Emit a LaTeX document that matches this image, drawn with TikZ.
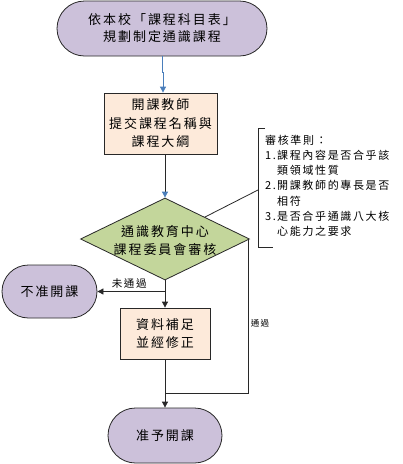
\documentclass[tikz,border=0pt]{standalone}
\usepackage{fontspec}
\newfontfamily\cjk[LetterSpace=15]{Noto Sans CJK TC}
\usetikzlibrary{shapes.geometric,arrows.meta,calc}
\definecolor{termfill}{RGB}{204,193,218}
\definecolor{boxfill}{RGB}{253,234,218}
\definecolor{decfill}{RGB}{195,214,155}
\definecolor{arrblue}{RGB}{74,126,187}
\definecolor{edge}{RGB}{40,40,40}
\tikzset{
  term/.style={draw=edge, line width=0.8pt, fill=termfill, inner sep=0pt, align=center,
    font=\cjk\fontsize{13}{17}\selectfont},
  procbox/.style={draw=edge, line width=0.8pt, fill=boxfill, inner sep=0pt, align=center,
    font=\cjk\fontsize{13}{18.5}\selectfont},
  decshape/.style={draw=edge, line width=0.8pt, fill=decfill, diamond, inner sep=0pt},
  maintext/.style={align=center, inner sep=0pt, font=\cjk\fontsize{13}{18}\selectfont},
  conn/.style={draw=edge, line width=0.8pt},
  arr/.style={conn, -{Triangle[width=6pt,length=6pt]}},
  bluearr/.style={draw=arrblue, line width=0.8pt, -{Triangle[width=6pt,length=6pt]}},
  bluetip/.style={conn, -{Triangle[width=6pt,length=6pt,fill=arrblue,color=arrblue]}},
  lbl/.style={inner sep=0pt, font=\cjk\fontsize{10.5}{12}\selectfont},
  smalllbl/.style={inner sep=0pt, font=\cjk\fontsize{8.5}{10}\selectfont},
  crit/.style={inner sep=0pt, align=left, anchor=north west, font=\cjk\fontsize{11}{15.3}\selectfont}
}
\begin{document}
\begin{tikzpicture}[x=1pt,y=-1pt]
\useasboundingbox[fill=white] (0,0) rectangle (403,464);

% top terminal
\node[term, minimum width=210pt, minimum height=55pt, rounded corners=27.5pt] (t1) at (162,28.5)
  {依本校「課程科目表」\\規劃制定通識課程};

% box 1
\node[procbox, minimum width=113pt, minimum height=61pt] (b1) at (160.5,123.5)
  {開課教師\\提交課程名稱與\\課程大綱};

% decision
\node[decshape, minimum width=169pt, minimum height=82pt] (d) at (165,239) {};
\node[maintext] (dt) at (165,240) {通識教育中心\\課程委員會審核};

% left terminal
\node[term, minimum width=95pt, minimum height=53pt, rounded corners=26.5pt] (lt) at (49.5,291.5)
  {不准開課};

% box 2
\node[procbox, minimum width=90pt, minimum height=51pt, font=\cjk\fontsize{13}{18}\selectfont] (b2) at (165,333.5)
  {資料補足\\並經修正};

% bottom terminal
\node[term, minimum width=114pt, minimum height=55pt, rounded corners=27.5pt] (bt) at (165,435.5)
  {准予開課};

% criteria bracket callout
\draw[conn] (265,128) -- (258,128) -- (258,247) -- (273,247);
\coordinate (cb) at (258,190);
\node[crit] (ct) at (265,134.5)
  {審核準則：\\
   \makebox[12pt][l]{1.}課程內容是否合乎該\\
   \hspace*{12pt}類領域性質\\
   \makebox[12pt][l]{2.}開課教師的專長是否\\
   \hspace*{12pt}相符\\
   \makebox[12pt][l]{3.}是否合乎通識八大核\\
   \hspace*{12pt}心能力之要求};
\draw[conn] ($(d.north)!0.47!(d.east)$) -- (cb);

% connectors
\draw[bluearr] (t1.south) -- ++(0,16) -| ([xshift=2.5pt]b1.north);
\draw[bluetip] (b1.south -| d.north) -- (d.north);
\draw[arr] (d.south) -- (b2.north);
\draw[arr] (d.south |- lt.east) -- node[lbl, above=3pt, xshift=-2pt] (nl) {未通過} (lt.east);
\coordinate (jn) at (165,393);
\draw[conn] ([xshift=-1.5pt]d.east) |- (jn);
\draw[arr] (b2.south) -- (bt.north);
\node[smalllbl] (pl) at (260,323) {通過};
\end{tikzpicture}
\end{document}
